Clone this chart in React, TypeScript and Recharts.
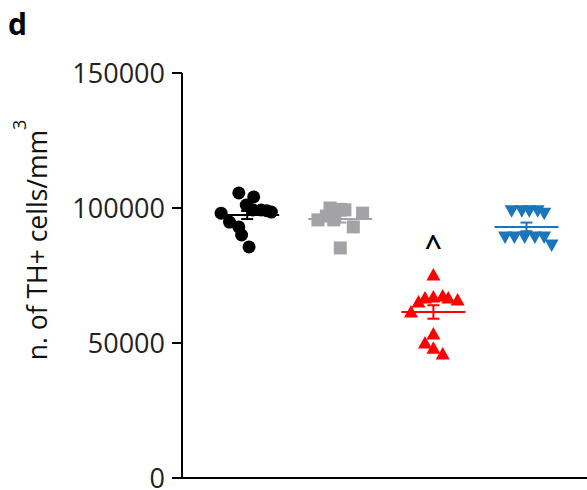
import React from 'react';
import { ScatterChart, Scatter, XAxis, YAxis, ErrorBar } from 'recharts';

// ---- data ----
const groupColors = ['#000000', '#a3a3a7', '#ff0000', '#1b75bc'];
const yTicks = [0, 50000, 100000, 150000];

// x = group index + jitter (in group units), y = TH+ cells / mm3
const blackX = [-0.28, -0.09, 0.07, -0.01, 0.06, 0.15, 0.26, -0.19, -0.09, -0.06, 0.02, 0.21];
const blackY = [98100, 105600, 104100, 101100, 99300, 99300, 98500, 94800, 93000, 90000, 85600, 99000];

const grayX = [-0.24, -0.11, 0.05, 0.24, -0.07, 0.14, 0.0, 0.0, -0.15];
const grayY = [95600, 100000, 99300, 98100, 95600, 93000, 85200, 99500, 97000];

const redX = [0.0, -0.16, -0.09, 0.0, 0.1, 0.16, 0.26, -0.24, 0.0, -0.09, 0.0, 0.1];
const redY = [75200, 65200, 66700, 67000, 67400, 66700, 65900, 61500, 53300, 50000, 48100, 45900];

const blueX = [-0.16, -0.05, 0.03, 0.12, 0.19, -0.23, -0.13, -0.02, 0.09, 0.19, 0.27];
const blueY = [99000, 99000, 99000, 99000, 98100, 89300, 89300, 89300, 89300, 89300, 86300];

const groupMeans = [97400, 95900, 61500, 93000];
const groupSems = [1500, 1300, 2500, 1600];

const annotationGroup = [2];
const annotationText = ['^'];
const annotationY = [82000];

const yLabel = 'n. of TH+ cells/mm';
const yLabelSup = '3';
const panelLetter = 'd';

const FONT = '"Open Sans", sans-serif';

const toPoints = (group: number, xs: number[], ys: number[]) =>
  xs.map((dx, i) => ({ x: group + dx, y: ys[i] }));

const groupData = [
  toPoints(0, blackX, blackY),
  toPoints(1, grayX, grayY),
  toPoints(2, redX, redY),
  toPoints(3, blueX, blueY),
];

const meanData = groupMeans.map((m, i) => [{ x: i, y: m, sem: groupSems[i] }]);
const annotationData = annotationGroup.map((g, i) => ({ x: g, y: annotationY[i], t: annotationText[i] }));

// ---- shapes ----
const makeShape = (kind: number, color: string) => (props: any) => {
  const { cx, cy } = props;
  if (cx == null || cy == null) return <g />;
  if (kind === 0) return <circle cx={cx} cy={cy} r={6.5} fill={color} />;
  if (kind === 1) return <rect x={cx - 6.5} y={cy - 6.5} width={13} height={13} fill={color} />;
  if (kind === 2)
    return <polygon points={`${cx},${cy - 7} ${cx - 7},${cy + 5.5} ${cx + 7},${cy + 5.5}`} fill={color} />;
  return <polygon points={`${cx - 7},${cy - 5.5} ${cx + 7},${cy - 5.5} ${cx},${cy + 7}`} fill={color} />;
};

const makeMeanShape = (color: string) => (props: any) => {
  const { cx, cy } = props;
  if (cx == null || cy == null) return <g />;
  return <line x1={cx - 32} x2={cx + 32} y1={cy} y2={cy} stroke={color} strokeWidth={2} />;
};

const CaretShape = (props: any) => {
  const { cx, cy, payload } = props;
  if (cx == null || cy == null) return <g />;
  return (
    <text x={cx} y={cy} textAnchor="middle" fontFamily={FONT} fontSize={30} fontWeight={600} fill="#000">
      {payload.t}
    </text>
  );
};

const YLabel = () => (
  <g>
    <text x={8} y={35} fontFamily={FONT} fontWeight={700} fontSize={30} fill="#000">
      {panelLetter}
    </text>
    <text
      x={47}
      y={240}
      transform="rotate(-90 47 240)"
      textAnchor="middle"
      fontFamily={FONT}
      fontSize={26.5}
      fill="#111"
    >
      {yLabel}
      <tspan dy={-21} fontSize={18}>
        {yLabelSup}
      </tspan>
    </text>
  </g>
);

export default function App() {
  return (
    <div style={{ position: 'absolute', left: 0, top: 0 }}>
      <ScatterChart width={587} height={490} margin={{ top: 73, right: 0, bottom: 0, left: 0 }}>
        <XAxis
          type="number"
          dataKey="x"
          domain={[-0.7, 3.65]}
          tick={false}
          tickLine={false}
          height={12}
          axisLine={{ stroke: '#000', strokeWidth: 2 }}
        />
        <YAxis
          type="number"
          dataKey="y"
          domain={[0, 150000]}
          ticks={yTicks}
          interval={0}
          width={182}
          tickSize={10}
          tickMargin={7}
          axisLine={{ stroke: '#000', strokeWidth: 2 }}
          tickLine={{ stroke: '#000', strokeWidth: 2 }}
          tick={{ fontFamily: FONT, fontSize: 27, fill: '#222' }}
          label={<YLabel />}
        />
        {groupData.map((d, i) => (
          <Scatter
            key={`g${i}`}
            data={d}
            fill={groupColors[i]}
            shape={makeShape(i, groupColors[i])}
            isAnimationActive={false}
          />
        ))}
        {meanData.map((d, i) => (
          <Scatter
            key={`m${i}`}
            data={d}
            fill={groupColors[i]}
            shape={makeMeanShape(groupColors[i])}
            isAnimationActive={false}
          >
            <ErrorBar dataKey="sem" direction="y" width={6} stroke={groupColors[i]} strokeWidth={2} />
          </Scatter>
        ))}
        <Scatter data={annotationData} shape={CaretShape} isAnimationActive={false} />
      </ScatterChart>
    </div>
  );
}
